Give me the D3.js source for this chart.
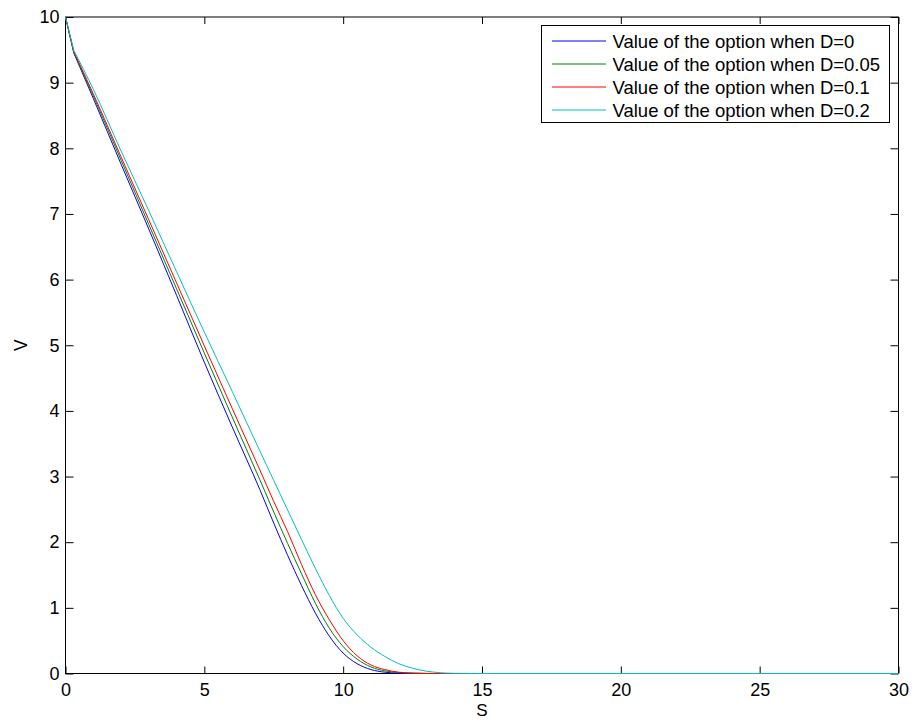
<!DOCTYPE html>
<html>
<head>
<meta charset="utf-8">
<script src="https://cdn.jsdelivr.net/npm/d3@7"></script>
<style>
    body { margin: 0; background: #fff; }
    svg { display: block; font-family: "Liberation Sans", Arial, sans-serif; }
</style>
</head>
<body>
<svg id="chart" width="912" height="720"></svg>
<script>

// asset price grid shared by every curve
var sValues = [0, 0.3, 1, 2, 3, 4, 5, 6, 7, 7.5, 8, 8.5, 9, 9.5, 10, 10.5, 11, 11.5, 12, 12.5, 13, 13.5, 14, 15, 20, 25, 30];

// option value, one list per dividend yield
var valueD0   = [10, 9.45, 8.76, 7.76, 6.77, 5.76, 4.74, 3.76, 2.80, 2.29, 1.80, 1.34, 0.92, 0.57, 0.31, 0.15, 0.06, 0.02, 0.005, 0, 0, 0, 0, 0, 0, 0, 0];
var valueD005 = [10, 9.46, 8.80, 7.82, 6.84, 5.86, 4.88, 3.91, 2.95, 2.46, 1.98, 1.52, 1.07, 0.69, 0.41, 0.22, 0.10, 0.04, 0.015, 0.005, 0, 0, 0, 0, 0, 0, 0];
var valueD01  = [10, 9.47, 8.83, 7.87, 6.91, 5.95, 4.99, 4.04, 3.10, 2.62, 2.16, 1.66, 1.20, 0.82, 0.50, 0.27, 0.13, 0.06, 0.02, 0.007, 0.002, 0, 0, 0, 0, 0, 0];
var valueD02  = [10, 9.49, 8.90, 7.96, 7.05, 6.12, 5.20, 4.30, 3.39, 2.94, 2.49, 2.04, 1.60, 1.19, 0.84, 0.59, 0.40, 0.26, 0.15, 0.08, 0.035, 0.012, 0.003, 0, 0, 0, 0];

var seriesNames = ["Value of the option when D=0", "Value of the option when D=0.05",
                   "Value of the option when D=0.1", "Value of the option when D=0.2"];
var seriesColors = ["#0000ff", "#008000", "#ff0000", "#00bfbf"];
var seriesValues = [valueD0, valueD005, valueD01, valueD02];

var xTicks = [0, 5, 10, 15, 20, 25, 30];
var yTicks = [0, 1, 2, 3, 4, 5, 6, 7, 8, 9, 10];

var svg = d3.select("#chart");

var plotLeft = 65.5, plotRight = 898.5, plotTop = 17, plotBottom = 673.5;

var x = d3.scaleLinear().domain([0, 30]).range([plotLeft, plotRight]);
var y = d3.scaleLinear().domain([0, 10]).range([plotBottom, plotTop]);

// axes, MATLAB style: ticks point inwards on all four sides
function styleAxis(g) {
    g.select(".domain").remove();
    g.attr("font-family", "Liberation Sans, Arial, sans-serif");
    g.selectAll(".tick line").attr("stroke", "#000");
    g.selectAll(".tick text").attr("fill", "#000").attr("font-size", 18);
}

svg.append("g")
    .attr("transform", "translate(0," + plotBottom + ")")
    .call(d3.axisBottom(x).tickValues(xTicks).tickSize(-7).tickPadding(10).tickFormat(d3.format("d")))
    .call(styleAxis);

svg.append("g")
    .attr("transform", "translate(0," + plotTop + ")")
    .call(d3.axisTop(x).tickValues(xTicks).tickSize(-7).tickFormat(""))
    .call(styleAxis);

svg.append("g")
    .attr("transform", "translate(" + plotLeft + ",0)")
    .call(d3.axisLeft(y).tickValues(yTicks).tickSize(-8).tickPadding(6).tickFormat(d3.format("d")))
    .call(styleAxis);

svg.append("g")
    .attr("transform", "translate(" + plotRight + ",0)")
    .call(d3.axisRight(y).tickValues(yTicks).tickSize(-8).tickFormat(""))
    .call(styleAxis);

svg.append("rect")
    .attr("x", plotLeft)
    .attr("y", plotTop)
    .attr("width", plotRight - plotLeft)
    .attr("height", plotBottom - plotTop)
    .attr("fill", "none")
    .attr("stroke", "#000")
    .attr("stroke-width", 1);

// axis labels
svg.append("text")
    .attr("x", (plotLeft + plotRight) / 2)
    .attr("y", 715.5)
    .attr("text-anchor", "middle")
    .attr("font-size", 17)
    .text("S");

svg.append("text")
    .attr("transform", "translate(26.5," + ((plotTop + plotBottom) / 2) + ") rotate(-90)")
    .attr("text-anchor", "middle")
    .attr("font-size", 17.5)
    .text("V");

// curves: the first step (S 0 -> 0.3) is a sharp kink, the rest is smooth
var kinkLine = d3.line()
    .x(function (d) { return x(d[0]); })
    .y(function (d) { return y(d[1]); });

var smoothLine = d3.line()
    .x(function (d) { return x(d[0]); })
    .y(function (d) { return y(d[1]); })
    .curve(d3.curveMonotoneX);

seriesValues.forEach(function (vals, k) {
    var pts = vals.map(function (v, i) { return [sValues[i], v]; });
    var g = svg.append("g")
        .attr("fill", "none")
        .attr("stroke", seriesColors[k])
        .attr("stroke-width", 1);
    g.append("path").attr("d", kinkLine(pts.slice(0, 2)));
    g.append("path").attr("d", smoothLine(pts.slice(1)));
});

// legend
var legend = svg.append("g");
legend.append("rect")
    .attr("x", 541.5)
    .attr("y", 25.5)
    .attr("width", 348)
    .attr("height", 97)
    .attr("fill", "#fff")
    .attr("stroke", "#000")
    .attr("stroke-width", 1);

seriesNames.forEach(function (name, k) {
    var base = 47.5 + k * 23;
    legend.append("line")
        .attr("x1", 552)
        .attr("x2", 606)
        .attr("y1", base - 6.5)
        .attr("y2", base - 6.5)
        .attr("stroke", seriesColors[k])
        .attr("stroke-width", 1);
    legend.append("text")
        .attr("x", 612.5)
        .attr("y", base)
        .attr("font-size", 18.5)
        .text(name);
});

</script>
</body>
</html>
